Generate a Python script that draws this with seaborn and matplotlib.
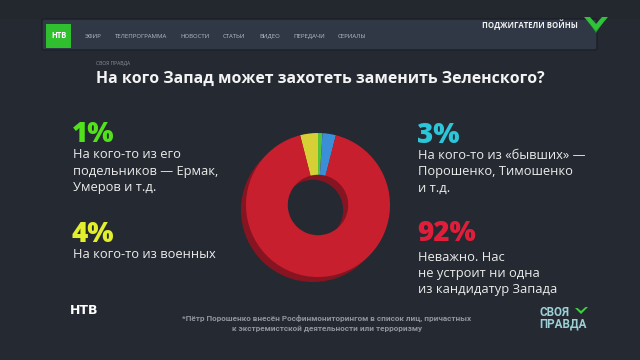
import matplotlib
matplotlib.use("Agg")
import matplotlib.pyplot as plt
import seaborn as sns
from matplotlib.patches import FancyBboxPatch, Rectangle, Polygon

# ---- data ----
shares = [4, 1, 3, 92]
slice_colors = ["#d6cf35", "#52c23a", "#3a8fd6", "#c81f2f"]
pct_labels = ["1%", "4%", "3%", "92%"]
pct_colors = ["#52e21c", "#e2ef2c", "#2cc6da", "#e01e3a"]
desc_lines = [
    ["На кого-то из его", "подельников — Ермак,", "Умеров и т.д."],
    ["На кого-то из военных"],
    ["На кого-то из «бывших» —", "Порошенко, Тимошенко", "и т.д."],
    ["Неважно. Нас", "не устроит ни одна", "из кандидатур Запада"],
]
title = "На кого Запад может захотеть заменить Зеленского?"
kicker = "СВОЯ ПРАВДА"
nav_items = ["ЭФИР", "ТЕЛЕПРОГРАММА", "НОВОСТИ", "СТАТЬИ", "ВИДЕО", "ПЕРЕДАЧИ", "СЕРИАЛЫ"]
nav_x = [85, 115, 180, 223, 259, 293, 338]
banner = "ПОДЖИГАТЕЛИ ВОЙНЫ"
footnote = ["*Пётр Порошенко внесён Росфинмониторингом в список лиц, причастных",
            "к экстремистской деятельности или терроризму"]

sns.set_theme(style="dark")
plt.rcParams["font.family"] = ["Open Sans", "DejaVu Sans"]

W, H = 640, 360
BG = "#252a32"
fig = plt.figure(figsize=(6.4, 3.6), dpi=100, facecolor=BG)

def fx(x):
    return x / W

def fy(y):
    return 1 - y / H

# top strip slightly darker
fig.patches.append(Rectangle((0, fy(19)), 1, 1 - fy(19), transform=fig.transFigure,
                             facecolor="#23272e", edgecolor="none", zorder=0))
# nav bar
fig.patches.append(FancyBboxPatch((fx(42), fy(50)), fx(597) - fx(42), fy(19) - fy(50),
                                  boxstyle="round,pad=0,rounding_size=0.004",
                                  transform=fig.transFigure, facecolor="#303845",
                                  edgecolor="#1c2026", linewidth=1.0, zorder=1))
# green logo square
fig.patches.append(Rectangle((fx(46), fy(48)), fx(71) - fx(46), fy(24) - fy(48),
                             transform=fig.transFigure, facecolor="#2fbf2f",
                             edgecolor="none", zorder=2))
fig.text(fx(58.5), fy(36), "НТВ", color="white", fontsize=5.5, fontweight="bold",
         ha="center", va="center", zorder=3)
for name, x in zip(nav_items, nav_x):
    fig.text(fx(x), fy(36), name, color="#b8bec8", fontsize=4.3, ha="left", va="center", zorder=3)
fig.text(fx(578), fy(24.5), banner, color="#f2f2f2", fontsize=5.6, fontweight="bold",
         ha="right", va="center", zorder=3)
# chevron
fig.patches.append(Polygon([(fx(587), fy(20)), (fx(596), fy(33)), (fx(605), fy(20)),
                            (fx(596), fy(28))],
                           closed=True, transform=fig.transFigure, facecolor="#1f8f2a",
                           edgecolor="none", zorder=2))
fig.patches.append(Polygon([(fx(584), fy(17)), (fx(596), fy(31)), (fx(608), fy(17)),
                            (fx(602), fy(17)), (fx(596), fy(24)), (fx(590), fy(17))],
                           closed=True, transform=fig.transFigure, facecolor="#2fc23a",
                           edgecolor="none", zorder=3))

# kicker + title
fig.text(fx(96), fy(63.5), kicker, color="#8a909a", fontsize=3.6, ha="left", va="center")
fig.text(fx(96), fy(83), title, color="#f4f4f4", fontsize=11.4, fontweight="bold",
         ha="left", va="baseline")

# donut
cx, cy, r = 318, 205, 72
pad = 10
ax = fig.add_axes([fx(cx - r - pad), fy(cy + r + pad), 2 * (r + pad) / W, 2 * (r + pad) / H])
ax.set_facecolor("none")
ax.pie([100], colors=["#861521"], radius=1.0, center=(-0.07, -0.07),
       wedgeprops=dict(width=0.58, edgecolor="none"))
ax.pie(shares, colors=slice_colors, startangle=90 + 3.6 * shares[0], counterclock=False,
       radius=1.0, wedgeprops=dict(width=0.58, edgecolor="none"))
lim = (r + pad) / r
ax.set_xlim(-lim, lim)
ax.set_ylim(-lim, lim)
ax.set_aspect("equal")
ax.axis("off")

# annotations
pct_pos = [(73, 142), (73, 242), (418, 143), (418, 241)]
desc_base = [[158, 175, 191], [258], [159, 175, 192], [261, 277, 293]]
for lab, col, (x, y), lines, bases in zip(pct_labels, pct_colors, pct_pos, desc_lines, desc_base):
    fig.text(fx(x - 1), fy(y), lab, color=col, fontsize=20, fontweight=800,
             ha="left", va="baseline")
    for ln, b in zip(lines, bases):
        fig.text(fx(x), fy(b), ln, color="#ececec", fontsize=9.3, ha="left", va="baseline")

# footnote
for i, ln in enumerate(footnote):
    fig.text(fx(327), fy(318 + 10 * i), ln, color="#8f959e", fontsize=5.9, fontweight="bold",
             ha="center", va="center", family=["Roboto", "DejaVu Sans"])

# channel logos
fig.text(fx(84), fy(311), "НТВ", color="white", fontsize=9, fontweight="black",
         ha="center", va="center", family=["DejaVu Sans"])
fig.text(fx(539), fy(318), "СВОЯ\nПРАВДА", color="#9dd0d6", fontsize=8.4, fontweight="bold",
         ha="left", va="center", linespacing=0.9, family=["Roboto", "DejaVu Sans"])
fig.patches.append(Polygon([(fx(575), fy(308)), (fx(581), fy(314)), (fx(588), fy(307)),
                            (fx(585.5), fy(307)), (fx(581), fy(311)), (fx(577.5), fy(308))],
                           closed=True, transform=fig.transFigure, facecolor="#3cd23c",
                           edgecolor="none"))

fig.savefig("out.png", dpi=100, facecolor=BG)
